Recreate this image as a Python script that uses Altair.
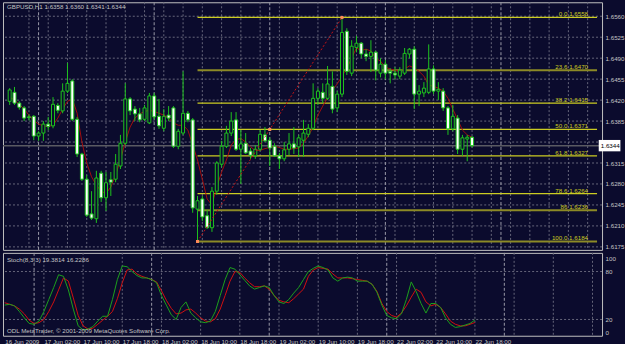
import altair as alt
import pandas as pd

# ---------------- data ----------------
idx = list(range(97))
opens = [1.6418, 1.6433, 1.6415, 1.6407, 1.6392, 1.6393, 1.6360, 1.6365, 1.6380, 1.6377,
         1.6411, 1.6402, 1.6435, 1.6452, 1.6388, 1.6330, 1.6288, 1.6230, 1.6222, 1.6298,
         1.6257, 1.6287, 1.6288, 1.6310, 1.6348, 1.6422, 1.6405, 1.6397, 1.6388, 1.6382,
         1.6427, 1.6393, 1.6373, 1.6395, 1.6407, 1.6343, 1.6365, 1.6398, 1.6387, 1.6238,
         1.6255, 1.6227, 1.6207, 1.6268, 1.6313, 1.6343, 1.6365, 1.6387, 1.6338, 1.6348,
         1.6335, 1.6327, 1.6338, 1.6362, 1.6353, 1.6343, 1.6327, 1.6322, 1.6338, 1.6347,
         1.6342, 1.6353, 1.6363, 1.6373, 1.6423, 1.6433, 1.6423, 1.6443, 1.6407, 1.6430,
         1.6535, 1.6465, 1.6508, 1.6515, 1.6497, 1.6493, 1.6500, 1.6465, 1.6480, 1.6468,
         1.6465, 1.6460, 1.6465, 1.6497, 1.6505, 1.6430, 1.6432, 1.6433, 1.6472, 1.6435,
         1.6435, 1.6407, 1.6372, 1.6390, 1.6338, 1.6355, 1.6358]
highs = [1.6440, 1.6442, 1.6418, 1.6410, 1.6396, 1.6395, 1.6368, 1.6385, 1.6392, 1.6425,
         1.6415, 1.6448, 1.6482, 1.6455, 1.6392, 1.6332, 1.6295, 1.6268, 1.6302, 1.6302,
         1.6300, 1.6300, 1.6330, 1.6362, 1.6448, 1.6425, 1.6410, 1.6407, 1.6412, 1.6432,
         1.6432, 1.6422, 1.6405, 1.6410, 1.6410, 1.6372, 1.6468, 1.6402, 1.6390, 1.6260,
         1.6260, 1.6237, 1.6275, 1.6318, 1.6352, 1.6377, 1.6400, 1.6400, 1.6370, 1.6365,
         1.6340, 1.6345, 1.6370, 1.6375, 1.6358, 1.6348, 1.6332, 1.6350, 1.6365, 1.6375,
         1.6362, 1.6387, 1.6380, 1.6448, 1.6440, 1.6448, 1.6477, 1.6468, 1.6435, 1.6558,
         1.6540, 1.6520, 1.6527, 1.6517, 1.6505, 1.6520, 1.6502, 1.6490, 1.6487, 1.6473,
         1.6475, 1.6475, 1.6507, 1.6507, 1.6510, 1.6445, 1.6450, 1.6513, 1.6478, 1.6450,
         1.6440, 1.6410, 1.6412, 1.6395, 1.6362, 1.6362, 1.6360]
lows = [1.6412, 1.6412, 1.6404, 1.6385, 1.6386, 1.6353, 1.6352, 1.6352, 1.6370, 1.6373,
        1.6398, 1.6398, 1.6432, 1.6385, 1.6325, 1.6285, 1.6225, 1.6220, 1.6215, 1.6250,
        1.6235, 1.6260, 1.6283, 1.6305, 1.6345, 1.6395, 1.6385, 1.6383, 1.6385, 1.6380,
        1.6388, 1.6372, 1.6368, 1.6385, 1.6340, 1.6338, 1.6362, 1.6383, 1.6232, 1.6184,
        1.6218, 1.6205, 1.6200, 1.6262, 1.6308, 1.6340, 1.6360, 1.6335, 1.6280, 1.6330,
        1.6322, 1.6322, 1.6335, 1.6350, 1.6310, 1.6325, 1.6305, 1.6318, 1.6328, 1.6330,
        1.6325, 1.6325, 1.6358, 1.6370, 1.6412, 1.6415, 1.6420, 1.6398, 1.6400, 1.6425,
        1.6462, 1.6460, 1.6500, 1.6490, 1.6485, 1.6467, 1.6453, 1.6458, 1.6455, 1.6448,
        1.6455, 1.6455, 1.6462, 1.6490, 1.6405, 1.6410, 1.6425, 1.6430, 1.6430, 1.6420,
        1.6402, 1.6362, 1.6368, 1.6330, 1.6327, 1.6318, 1.6341]
closes = [1.6437, 1.6415, 1.6408, 1.6390, 1.6391, 1.6360, 1.6365, 1.6380, 1.6376, 1.6413,
          1.6403, 1.6435, 1.6448, 1.6388, 1.6330, 1.6288, 1.6228, 1.6223, 1.6290, 1.6257,
          1.6282, 1.6283, 1.6313, 1.6348, 1.6422, 1.6402, 1.6397, 1.6387, 1.6407, 1.6427,
          1.6392, 1.6377, 1.6393, 1.6390, 1.6343, 1.6368, 1.6398, 1.6387, 1.6240, 1.6252,
          1.6225, 1.6207, 1.6268, 1.6315, 1.6343, 1.6365, 1.6385, 1.6338, 1.6347, 1.6332,
          1.6328, 1.6338, 1.6363, 1.6352, 1.6340, 1.6327, 1.6322, 1.6337, 1.6347, 1.6340,
          1.6357, 1.6365, 1.6373, 1.6423, 1.6435, 1.6423, 1.6447, 1.6405, 1.6430, 1.6533,
          1.6468, 1.6510, 1.6515, 1.6497, 1.6493, 1.6500, 1.6470, 1.6480, 1.6465, 1.6465,
          1.6462, 1.6470, 1.6498, 1.6505, 1.6430, 1.6435, 1.6440, 1.6472, 1.6435, 1.6438,
          1.6407, 1.6372, 1.6393, 1.6338, 1.6357, 1.6358, 1.6344]
ma_vals = [1.6425, 1.6420, 1.6413, 1.6405, 1.6395, 1.6386, 1.6380, 1.6377, 1.6376, 1.6378,
           1.6390, 1.6405, 1.6418, 1.6422, 1.6398, 1.6350, 1.6315, 1.6292, 1.6278, 1.6268,
           1.6264, 1.6275, 1.6295, 1.6320, 1.6350, 1.6375, 1.6390, 1.6397, 1.6401, 1.6403,
           1.6401, 1.6398, 1.6395, 1.6390, 1.6382, 1.6378, 1.6378, 1.6370, 1.6345, 1.6320,
           1.6288, 1.6255, 1.6245, 1.6275, 1.6300, 1.6320, 1.6345, 1.6354, 1.6356, 1.6350,
           1.6342, 1.6336, 1.6336, 1.6339, 1.6341, 1.6343, 1.6341, 1.6338, 1.6338, 1.6339,
           1.6340, 1.6348, 1.6360, 1.6375, 1.6395, 1.6410, 1.6424, 1.6437, 1.6447, 1.6460,
           1.6473, 1.6490, 1.6507, 1.6503, 1.6505, 1.6502, 1.6490, 1.6485, 1.6475, 1.6472,
           1.6470, 1.6468, 1.6472, 1.6477, 1.6474, 1.6468, 1.6460, 1.6445, 1.6443, 1.6440,
           1.6435, 1.6423, 1.6405, 1.6388, 1.6370, 1.6362, 1.6358]
stoch_main = [38, 39, 37, 30, 22, 15, 14, 18, 30, 45, 60, 76, 74, 57, 33, 12, 7, 8, 11, 18,
              24, 24, 45, 70, 87, 86, 80, 75, 72, 72, 70, 66, 50, 38, 26, 20, 35, 42, 28, 22,
              17, 16, 18, 30, 50, 70, 85, 83, 76, 69, 62, 58, 60, 62, 60, 50, 42, 40, 45, 53,
              60, 70, 80, 84, 87, 85, 82, 72, 68, 72, 73, 72, 68, 68, 68, 64, 54, 38, 25, 22,
              21, 27, 45, 67, 55, 40, 28, 40, 40, 35, 22, 14, 10, 11, 13, 15, 19.38]
stoch_signal = [41, 39, 37, 33, 27, 19, 15, 16, 20, 30, 42, 57, 72, 68, 47, 25, 12, 8, 9, 14,
                19, 24, 30, 46, 66, 82, 83, 77, 74, 72, 70, 67, 56, 44, 34, 27, 28, 32, 33, 28,
                22, 18, 17, 21, 33, 50, 68, 80, 79, 72, 66, 61, 61, 62, 58, 50, 44, 42, 41, 46,
                52, 58, 74, 82, 85, 84, 83, 77, 72, 72, 72, 71, 70, 69, 68, 64, 55, 40, 30, 25,
                23, 28, 37, 48, 58, 54, 42, 37, 39, 35, 27, 18, 14, 12, 12, 14, 16.23]

time_labels = ["16 Jun 2009", "17 Jun 02:00", "17 Jun 10:00", "17 Jun 18:00", "18 Jun 02:00",
               "18 Jun 10:00", "18 Jun 18:00", "19 Jun 02:00", "19 Jun 10:00", "19 Jun 18:00",
               "22 Jun 02:00", "22 Jun 10:00", "22 Jun 18:00"]
time_label_idx = [0, 8, 16, 24, 32, 40, 48, 56, 64, 72, 80, 88, 96]
day_sep_idx = [6, 30, 54, 78, 102]
main_grid_idx = [4, 8, 12, 16, 20, 24, 28, 32, 36, 40, 44, 48, 52, 56, 60, 64, 68, 72, 76,
                 80, 84, 88, 92, 96, 100, 104, 108, 112, 116, 120]
stoch_grid_idx = [8, 16, 24, 32, 40, 48, 56, 64, 72, 80, 88, 96, 104, 112, 120]
price_grid = [1.6175, 1.6210, 1.6245, 1.6280, 1.6315, 1.6350, 1.6385, 1.6420,
              1.6455, 1.6490, 1.6525, 1.6560]
price_labels = [1.6175, 1.6210, 1.6245, 1.6280, 1.6315, 1.6385, 1.6420,
                1.6455, 1.6490, 1.6525, 1.6560]
stoch_ticks = [0, 20, 80, 100]
stoch_levels = [20, 80]

fib_names = ["0.0", "23.6", "38.2", "50.0", "61.8", "78.6", "86", "100.0"]
fib_prices = [1.6558, 1.6470, 1.6415, 1.6371, 1.6327, 1.6264, 1.6236, 1.6184]
fib_start_idx = 39
fib_end_idx = 69
fib_low = 1.6184
fib_high = 1.6558
last_price = 1.6344

title_text = "GBPUSD,H1 1.6358 1.6360 1.6341 1.6344"
stoch_text = "Stoch(8,3,3) 19.3814 16.2286"
copy_text = "ODL MetaTrader, \u00a9 2001-2009 MetaQuotes Software Corp."

# ---------------- style ----------------
BG = "#0b0b2d"
GREEN = "#1ec41e"
GRID = "#66667a"
SEP = "#9a9aa8"
FIB = "#cccc22"
FIB_DARK = "#8c8a26"
TXT = "#c4c4c4"
FONT = "Liberation Sans"
FS = 6.2

X0, X1 = -0.35, 121.95
W = 600
H_MAIN = 248
H_ST = 83
Y_MAIN = [1.6170, 1.658333]
Y_ST = [-0.375, 103.375]

xs = alt.Scale(domain=[X0, X1], nice=False, zero=False)
ys = alt.Scale(domain=Y_MAIN, nice=False, zero=False)
ss = alt.Scale(domain=Y_ST, nice=False, zero=False)

PRICE_AXIS = alt.Axis(orient="right", values=price_labels, format=".4f", grid=False, ticks=False,
                      domain=False, labelColor=TXT, labelFont=FONT, labelFontSize=FS,
                      labelPadding=3, title=None)
STOCH_AXIS = alt.Axis(orient="right", values=stoch_ticks, grid=False, ticks=False, domain=False,
                      labelColor=TXT, labelFont=FONT, labelFontSize=FS, labelPadding=3,
                      labelBaseline={"expr": "datum.value == 100 ? 'top' : datum.value == 0 ? 'bottom' : 'middle'"},
                      title=None)
lab_expr = "[" + ",".join(f"'{t}'" for t in time_labels) + "][round(datum.value/8)]"
TIME_AXIS = alt.Axis(values=time_label_idx, labelExpr=lab_expr, labelAlign="left", ticks=False,
                     domain=False, grid=False, labelColor=TXT, labelFont=FONT, labelFontSize=FS,
                     labelPadding=3, labelOverlap=False, labelBound=False, title=None)

def PX(f):
    return alt.X(f, scale=xs, axis=None)

def PY(f):
    return alt.Y(f, scale=ys, axis=PRICE_AXIS)

def SX(f):
    return alt.X(f, scale=xs, axis=TIME_AXIS)

def SY(f):
    return alt.Y(f, scale=ss, axis=STOCH_AXIS)

bars = pd.DataFrame({"i": idx, "o": opens, "h": highs, "l": lows, "c": closes, "ma": ma_vals})
bars["top"] = bars[["o", "c"]].max(axis=1)
bars["bot"] = bars[["o", "c"]].min(axis=1)
bars["bear"] = bars["c"] < bars["o"]

main_vgrid = pd.DataFrame({"g": main_grid_idx})
stoch_vgrid = pd.DataFrame({"g": stoch_grid_idx})
seps = pd.DataFrame({"g": day_sep_idx})

fib = pd.DataFrame({"p": fib_prices, "name": fib_names})
fib["label"] = fib["name"] + "  " + fib["p"].map(lambda v: f"{v:.4f}")
fib["x0"] = fib_start_idx
fib["x1"] = X1
diag = pd.DataFrame({"i": [fib_start_idx, fib_end_idx], "p": [fib_low, fib_high]})
anchors = pd.DataFrame({"i": [fib_start_idx, (fib_start_idx + fib_end_idx) / 2, fib_end_idx],
                        "p": [fib_low, (fib_low + fib_high) / 2, fib_high]})
lastdf = pd.DataFrame({"p": [last_price], "pl": [last_price - 0.00095], "ph": [last_price + 0.00095],
                       "xa": [X1 + 0.35], "xb": [X1 + 4.85], "t": [f"{last_price:.4f}"]})

dark_test = "indexof(['23.6','86','100.0'], datum.name) >= 0"

# ---------------- main panel ----------------
base = alt.Chart(bars)

ygrid_layer = alt.Chart(pd.DataFrame({"p": price_grid})).mark_rule(
    color=GRID, strokeDash=[2, 2], strokeWidth=1).encode(y=PY("p:Q"))
vgrid_layer = alt.Chart(main_vgrid).mark_rule(color=GRID, strokeDash=[2, 2], strokeWidth=1).encode(
    x=PX("g:Q"))
sep_layer = alt.Chart(seps).mark_rule(color=SEP, strokeDash=[3, 2], strokeWidth=1).encode(
    x=PX("g:Q"))
bid_layer = alt.Chart(lastdf).mark_rule(color="#5a5a62", strokeWidth=1.5).encode(y=PY("p:Q"))

fib_lines = alt.Chart(fib).mark_rule().encode(
    x=PX("x0:Q"), x2="x1:Q", y=PY("p:Q"),
    color=alt.condition(dark_test, alt.value(FIB_DARK), alt.value(FIB)),
    strokeWidth=alt.condition(dark_test, alt.value(2), alt.value(1.2)))
fib_text = alt.Chart(fib).mark_text(align="right", baseline="bottom", dx=-9, dy=0,
                                    font=FONT, fontSize=FS, color=FIB).encode(
    x=PX("x1:Q"), y=PY("p:Q"), text="label:N")

ma_layer = base.mark_line(color="#a30d0d", strokeWidth=1).encode(x=PX("i:Q"), y=PY("ma:Q"))
wicks = base.mark_rule(color=GREEN, strokeWidth=1).encode(x=PX("i:Q"), y=PY("l:Q"), y2="h:Q")
bodies = base.mark_bar(size=3, stroke=GREEN, strokeWidth=1).encode(
    x=PX("i:Q"), y=PY("bot:Q"), y2="top:Q",
    fill=alt.condition("datum.bear", alt.value("#ffffff"), alt.value(BG)))

diag_layer = alt.Chart(diag).mark_line(color="#c81414", strokeDash=[2, 2], strokeWidth=1).encode(
    x=PX("i:Q"), y=PY("p:Q"))
anchor_layer = alt.Chart(anchors).mark_square(size=9, color="#ff8a5a", opacity=1).encode(
    x=PX("i:Q"), y=PY("p:Q"))

last_box = alt.Chart(lastdf).mark_rect(color="#ffffff").encode(
    x=PX("xa:Q"), x2="xb:Q", y=PY("pl:Q"), y2="ph:Q")
last_txt = alt.Chart(lastdf).mark_text(align="left", baseline="middle", dx=2, font=FONT,
                                       fontSize=FS, color="#000000").encode(
    x=PX("xa:Q"), y=PY("p:Q"), text="t:N")

title_layer = alt.Chart(pd.DataFrame({"t": [title_text]})).mark_text(
    align="left", baseline="middle", font=FONT, fontSize=FS, color=TXT).encode(
    x=alt.value(4), y=alt.value(5), text="t:N")

main = alt.layer(ygrid_layer, vgrid_layer, sep_layer, bid_layer, fib_lines, ma_layer, wicks,
                 bodies, diag_layer, anchor_layer, fib_text, title_layer, last_box, last_txt
                 ).properties(width=W, height=H_MAIN)

# ---------------- stochastic panel ----------------
st = pd.DataFrame({"i": idx, "k": stoch_main, "d": stoch_signal})

st_h = alt.Chart(pd.DataFrame({"v": stoch_levels})).mark_rule(
    color=GRID, strokeDash=[2, 2], strokeWidth=1).encode(y=SY("v:Q"))
st_v = alt.Chart(stoch_vgrid).mark_rule(color=GRID, strokeDash=[2, 2], strokeWidth=1).encode(
    x=SX("g:Q"))
st_sep = alt.Chart(seps).mark_rule(color=SEP, strokeDash=[3, 2], strokeWidth=1).encode(
    x=SX("g:Q"))
st_k = alt.Chart(st).mark_line(color="#1ca01c", strokeWidth=1).encode(x=SX("i:Q"), y=SY("k:Q"))
st_d = alt.Chart(st).mark_line(color="#d01010", strokeWidth=1).encode(x=SX("i:Q"), y=SY("d:Q"))
st_lab = alt.Chart(pd.DataFrame({"t": [stoch_text]})).mark_text(
    align="left", baseline="middle", font=FONT, fontSize=FS, color=TXT).encode(
    x=alt.value(4), y=alt.value(7), text="t:N")
st_copy = alt.Chart(pd.DataFrame({"t": [copy_text]})).mark_text(
    align="left", baseline="middle", font=FONT, fontSize=FS, color=TXT).encode(
    x=alt.value(4), y=alt.value(78), text="t:N")

stoch = alt.layer(st_h, st_v, st_sep, st_d, st_k, st_lab, st_copy).properties(width=W, height=H_ST)

chart = alt.vconcat(main, stoch, spacing=1).properties(
    background=BG, padding={"left": 1, "top": 1, "right": 0, "bottom": 0}
).configure_view(stroke="#c0c0c0", strokeWidth=1, fill=BG).configure_concat(spacing=1)

chart.save("out.html", embed_options={"renderer": "svg", "actions": False})
